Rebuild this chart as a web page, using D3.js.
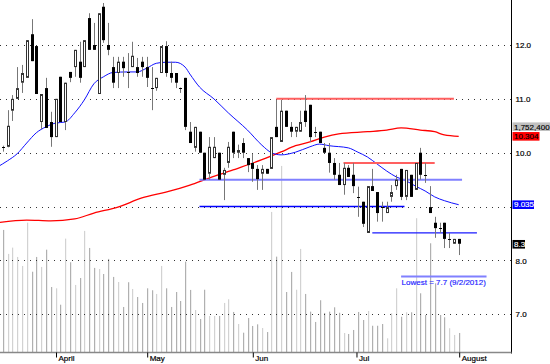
<!DOCTYPE html>
<html><head><meta charset="utf-8">
<script src="https://cdn.jsdelivr.net/npm/d3@7"></script>
<style>html,body{margin:0;padding:0;background:#fff;} svg{display:block;font-family:"Liberation Sans",Arial,sans-serif;}</style>
</head><body><svg id="c" width="550" height="364"></svg>
<script>
// ---- data ----
const openP  = [10.11,10.11,10.78,11.00,11.30,11.39,12.20,11.98,10.57,11.20,10.57,10.29,11.41,10.57,11.50,11.59,11.69,11.59,12.50,12.00,11.09,12.71,12.00,11.59,11.48,11.69,11.50,11.59,11.59,11.69,11.59,11.21,11.20,11.48,11.98,11.48,11.48,11.21,11.39,10.39,10.09,10.39,10.00,9.61,9.90,10.00,9.59,9.81,10.39,10.00,10.18,9.90,9.81,9.70,9.61,9.70,9.70,10.48,10.20,10.78,10.48,10.39,10.39,10.78,10.89,10.39,10.39,10.09,10.00,9.81,9.59,9.40,9.72,9.59,9.18,9.09,8.51,9.38,9.27,9.00,8.88,9.18,9.38,9.70,9.18,9.59,9.31,10.00,9.59,8.99,8.70,8.61,8.70,8.40,8.31,8.40];
const highP  = [10.13,10.79,11.07,11.59,11.63,12.09,12.48,11.98,11.09,11.39,10.76,11.00,11.41,11.30,11.50,11.91,12.06,12.09,12.59,12.41,12.59,12.78,12.41,11.78,11.78,11.78,11.85,12.06,11.76,11.78,11.78,11.59,11.39,11.98,12.07,11.69,11.48,11.21,11.39,10.57,10.48,10.39,10.00,10.29,10.29,10.00,9.72,10.20,10.39,10.15,10.27,9.90,9.98,9.77,9.77,9.70,10.29,10.98,10.98,10.78,10.57,10.48,10.78,11.07,10.89,10.48,10.39,10.18,10.18,9.90,9.81,9.81,9.77,9.81,9.37,9.09,9.38,9.70,9.27,9.09,9.09,9.40,9.59,9.70,9.68,9.59,9.81,10.09,9.81,9.38,8.81,8.70,8.70,8.51,8.40,8.40];
const lowP   = [10.02,10.10,10.59,11.00,11.11,11.39,11.70,11.09,10.44,10.46,10.11,10.29,10.57,10.42,11.31,11.41,11.30,11.59,11.91,11.91,11.09,12.04,11.81,11.20,11.20,11.41,11.20,11.59,11.41,11.41,11.22,10.79,11.15,11.48,11.41,11.30,11.20,11.11,10.42,10.18,10.02,10.00,9.50,9.50,9.90,9.50,9.12,9.72,9.90,9.90,9.90,9.64,9.46,9.31,9.31,9.61,9.70,10.29,10.20,10.48,10.29,10.29,10.39,10.48,10.20,10.29,10.18,10.00,9.63,9.50,9.40,9.22,9.55,9.25,8.81,8.62,8.51,9.29,8.72,8.72,8.88,9.09,9.31,9.12,9.12,9.18,9.31,9.50,9.44,8.88,8.42,8.51,8.23,8.23,8.31,8.10];
const closeP = [10.10,10.50,11.00,11.20,11.48,12.09,11.70,11.09,11.09,10.46,10.29,11.00,10.57,11.30,11.39,11.91,11.39,12.09,11.91,11.91,12.59,12.09,11.91,11.30,11.69,11.57,11.49,11.80,11.48,11.59,11.39,11.20,11.39,11.98,11.48,11.39,11.30,11.20,10.48,10.18,10.48,10.00,9.50,10.11,10.11,9.50,9.68,10.11,10.00,10.05,10.00,9.77,9.70,9.51,9.70,9.61,10.29,10.29,10.78,10.48,10.39,10.48,10.57,10.57,10.29,10.38,10.18,10.00,9.81,9.59,9.40,9.72,9.55,9.38,9.17,8.68,9.38,9.29,8.88,8.99,8.99,9.27,9.50,9.18,9.68,9.18,9.81,9.59,9.58,8.88,8.60,8.60,8.40,8.40,8.40,8.31];
// volume in millions of shares
const volumeM = [11.25,9.04,9.62,8.76,7.93,11.92,7.40,8.76,7.84,9.43,5.99,5.87,4.36,10.45,8.27,6.18,6.82,11.16,9.59,7.75,7.65,7.19,8.58,6.92,6.45,4.15,6.43,5.81,5.07,4.52,5.87,5.69,5.35,7.93,5.87,4.15,5.53,4.70,8.33,5.72,3.87,3.04,5.74,3.32,3.32,3.32,4.52,4.86,3.69,2.58,1.78,3.13,2.40,2.55,2.21,1.84,12.91,8.79,17.15,5.53,7.38,5.74,9.50,5.35,3.72,2.77,4.77,3.60,3.72,4.12,3.62,1.75,1.66,2.03,3.69,2.95,3.78,2.42,2.42,2.58,1.26,3.57,5.87,3.25,3.66,3.66,12.33,5.41,3.41,10.02,6.33,3.41,3.20,2.19,1.57,1.7524];
// moving averages, sampled at bar indices
const maShortIdx = [-1,1,3,5,7,9,11,13,15,17,19,21,23,26,28,30,32,34,36,38,39,41,44,47,51,54,56,58,61,64,66,68,72,74,76,78,80,82,84,86,88,90,92,95];
const maShortVal = [9.74,9.85,9.98,10.18,10.37,10.48,10.55,10.57,10.74,10.98,11.28,11.41,11.49,11.50,11.50,11.57,11.66,11.68,11.68,11.59,11.46,11.22,11.00,10.74,10.42,10.14,10.00,9.96,10.01,10.11,10.16,10.13,10.09,10.01,9.92,9.79,9.66,9.55,9.48,9.38,9.29,9.18,9.11,9.035];
const maLongIdx  = [-1,5,10,15,19,24,29,34,39,43,48,54,58,61,64,67,70,76,80,83,87,90,92,95];
const maLongVal  = [8.70,8.75,8.735,8.77,8.88,8.99,9.16,9.27,9.40,9.53,9.68,9.87,10.015,10.13,10.20,10.29,10.35,10.39,10.42,10.46,10.42,10.39,10.33,10.304];
// horizontal levels: price, start index, end index
const levelPrice = [11.0, 9.81, 9.5, 9.0, 8.51, 7.7];
const levelFrom  = [57, 71, 41, 41, 77, 83];
const levelTo    = [94, 90, 95.7, 83.7, 98.8, 100.8];
const gridTicks  = [7, 8, 9, 10, 11, 12];
const priceTicks = [7, 8, 10, 11, 12];
const monthIdx   = [11, 30, 52, 73.6, 95];
const monthLabel = ["April", "May", "Jun", "Jul", "August"];
const lowestText = "Lowest = 7.7 (9/2/2012)";
const lastVolume = "1,752,400", maLongLast = "10.304", maShortLast = "9.035", lastClose = "8.3";

// ---- drawing ----
const svg = d3.select("#c");
const axisX = 511.5, baseY = 352.5;
const x = d3.scaleLinear().domain([0, 95]).range([2.7, 458.7]);
const y = d3.scaleLinear().domain([7, 12]).range([314.3, 45]);
const yv = d3.scaleLinear().domain([0, 20]).range([352, 135]);

svg.append("defs").append("clipPath").attr("id", "plot")
  .append("rect").attr("x", 0).attr("y", 0).attr("width", 511).attr("height", 352);
const g = svg.append("g").attr("clip-path", "url(#plot)");

// volume
g.append("g").selectAll("rect").data(volumeM).join("rect")
  .attr("x", (d, i) => Math.round(x(i)))
  .attr("y", d => yv(d))
  .attr("width", 1.2)
  .attr("height", d => 352 - yv(d))
  .attr("fill", (d, i) => closeP[i] >= openP[i] ? "#d2d2d2" : "#b0b0b0");

// grid
g.append("g").selectAll("line").data(gridTicks).join("line")
  .attr("x1", 0).attr("x2", 511)
  .attr("y1", d => Math.round(y(d)) + 0.5).attr("y2", d => Math.round(y(d)) + 0.5)
  .attr("stroke", "#333").attr("stroke-width", 1).attr("stroke-dasharray", "1,5");

// moving averages
const line = d3.line().x(d => x(d[0])).y(d => y(d[1])).curve(d3.curveMonotoneX);
g.append("path").datum(maLongIdx.map((d, i) => [d, maLongVal[i]]))
  .attr("d", line).attr("fill", "none").attr("stroke", "#ff0000").attr("stroke-width", 1.3);
g.append("path").datum(maShortIdx.map((d, i) => [d, maShortVal[i]]))
  .attr("d", line).attr("fill", "none").attr("stroke", "#1010ff").attr("stroke-width", 1);

// levels
const levelColor = ["#ff6060", "#ff6060", "#8080ff", "#0000ff", "#1a1aff", "#8080ff"];
const levelWidth = [2, 2, 2, 1.5, 1.2, 2];
g.append("g").selectAll("line").data(levelPrice).join("line")
  .attr("x1", (d, i) => x(levelFrom[i])).attr("x2", (d, i) => x(levelTo[i]))
  .attr("y1", d => y(d)).attr("y2", d => y(d))
  .attr("stroke", (d, i) => levelColor[i]).attr("stroke-width", (d, i) => levelWidth[i]);

// candles
const cg = g.append("g");
openP.forEach((o, i) => {
  const c = closeP[i], cx = Math.round(x(i));
  cg.append("line").attr("x1", cx + 0.5).attr("x2", cx + 0.5)
    .attr("y1", y(highP[i])).attr("y2", y(lowP[i]))
    .attr("stroke", "#777").attr("stroke-width", 1);
  const top = y(Math.max(o, c)), bot = y(Math.min(o, c));
  if (bot - top < 1.2) {
    const yy = Math.round(y(c)) + 0.5;
    cg.append("line").attr("x1", cx - 1).attr("x2", cx + 2).attr("y1", yy).attr("y2", yy)
      .attr("stroke", "#000").attr("stroke-width", 1);
  } else if (c >= o) {
    cg.append("rect").attr("x", cx - 0.5).attr("y", top + 0.5).attr("width", 2)
      .attr("height", Math.max(0, bot - top - 1)).attr("fill", "#fff")
      .attr("stroke", "#333").attr("stroke-width", 1);
  } else {
    cg.append("rect").attr("x", cx - 1).attr("y", top).attr("width", 3)
      .attr("height", bot - top).attr("fill", "#000");
  }
});

// lowest label
g.append("text").attr("x", x(83) + 0.5).attr("y", y(7.7) + 8.5)
  .attr("font-size", 8).attr("fill", "#2020ff")
  .attr("stroke", "#2020ff").attr("stroke-width", 0.15).text(lowestText);

// axes
svg.append("line").attr("x1", axisX).attr("x2", axisX).attr("y1", 0).attr("y2", baseY + 1)
  .attr("stroke", "#000");
svg.append("line").attr("x1", 0).attr("x2", axisX).attr("y1", baseY).attr("y2", baseY)
  .attr("stroke", "#888").attr("stroke-width", 1.5);

const ya = svg.append("g").attr("transform", `translate(${axisX},0)`)
  .call(d3.axisRight(y).tickValues(priceTicks).tickSize(0).tickPadding(4).tickFormat(d3.format(".1f")));
ya.select(".domain").remove();
ya.selectAll("text").attr("font-size", 8).attr("fill", "#000").attr("font-family", null)
  .attr("stroke", "#000").attr("stroke-width", 0.2);

const xa = svg.append("g").attr("transform", `translate(0,${baseY})`)
  .call(d3.axisBottom(x).tickValues(monthIdx).tickSize(5).tickFormat((d, i) => monthLabel[i]));
xa.select(".domain").remove();
xa.selectAll(".tick line").attr("stroke", "#000").attr("transform", "translate(0.5,0)");
xa.selectAll("text").attr("font-size", 8).attr("fill", "#000").attr("font-family", null)
  .attr("stroke", "#000").attr("stroke-width", 0.2)
  .attr("text-anchor", "start").attr("x", 2.5).attr("y", 3).attr("dy", "0.71em");

// right-side value tags
const tags = [
  {text: lastVolume, val: null, yc: 126.7, bg: "#c0c0c0", fg: "#000", w: 40},
  {text: maLongLast, val: 10.304, bg: "#ff0000", fg: "#000", w: 27},
  {text: maShortLast, val: 9.035, bg: "#0000ff", fg: "#fff", w: 21.5},
  {text: lastClose, val: 8.3, bg: "#000", fg: "#fff", w: 12.5}
];
tags.forEach(t => {
  const yc = t.val === null ? t.yc : y(t.val);
  svg.append("rect").attr("x", 512.5).attr("y", yc - 4.3).attr("width", t.w).attr("height", 8.6).attr("fill", t.bg);
  svg.append("text").attr("x", 514).attr("y", yc).attr("dy", "0.35em")
    .attr("font-size", 8).attr("fill", t.fg).attr("stroke", t.fg).attr("stroke-width", 0.15).text(t.text);
});
</script></body></html>
